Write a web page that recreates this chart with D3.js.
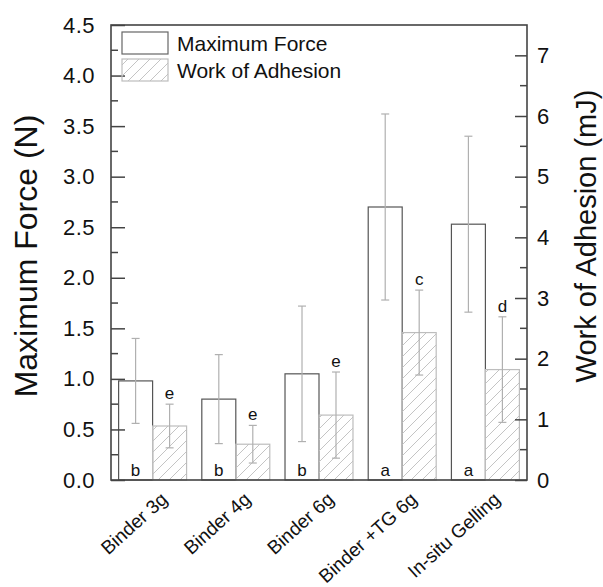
<!DOCTYPE html>
<html>
<head>
<meta charset="utf-8">
<script src="https://cdn.jsdelivr.net/npm/d3@7"></script>
<style>
  body { margin: 0; background: #fff; }
  text { font-family: Arial, "Liberation Sans", sans-serif; fill: #111; }
</style>
</head>
<body>
<script>
var svgWidth = 603;
var svgHeight = 587;

// data
var categories = ['Binder 3g', 'Binder 4g', 'Binder 6g', 'Binder +TG 6g', 'In-situ Gelling'];
var force = [0.98, 0.80, 1.05, 2.70, 2.53];
var forceErr = [0.42, 0.44, 0.67, 0.92, 0.87];
var work = [0.89, 0.59, 1.07, 2.43, 1.82];
var workErr = [0.36, 0.31, 0.71, 0.70, 0.87];
var forceLetters = ['b', 'b', 'b', 'a', 'a'];
var workLetters = ['e', 'e', 'e', 'c', 'd'];
var leftTicks = [0, 0.5, 1, 1.5, 2, 2.5, 3, 3.5, 4, 4.5];
var rightTicks = [0, 1, 2, 3, 4, 5, 6, 7];

var pLeft = 111, pRight = 527, pTop = 25, pBottom = 480;

var svg = d3.select('body').append('svg')
  .attr('width', svgWidth)
  .attr('height', svgHeight);

var defs = svg.append('defs');
var pat = defs.append('pattern')
  .attr('id', 'hatch')
  .attr('patternUnits', 'userSpaceOnUse')
  .attr('width', 11).attr('height', 11);
pat.append('path')
  .attr('d', 'M0,11 L11,0 M-2,2 L2,-2 M9,13 L13,9')
  .attr('stroke', '#c4c4c4')
  .attr('stroke-width', 1);

var x = d3.scaleBand().domain(categories).range([pLeft, pRight])
  .paddingInner(0.183).paddingOuter(0.0915);
var sub = d3.scaleBand().domain(['force', 'work']).range([0, x.bandwidth()]);
var yL = d3.scaleLinear().domain([0, 4.5]).range([pBottom, pTop]);
var yR = d3.scaleLinear().domain([0, 7.5]).range([pBottom, pTop]);

var rows = categories.map(function(c, i) {
  return {cat: c, f: force[i], fe: forceErr[i], w: work[i], we: workErr[i],
    fl: forceLetters[i], wl: workLetters[i]};
});

// bars
svg.selectAll('.fbar').data(rows).enter().append('rect')
  .attr('x', function(d) { return x(d.cat) + sub('force'); })
  .attr('y', function(d) { return yL(d.f); })
  .attr('width', sub.bandwidth())
  .attr('height', function(d) { return pBottom - yL(d.f); })
  .attr('fill', '#fff')
  .attr('stroke', '#555')
  .attr('stroke-width', 1.2);

svg.selectAll('.wbar').data(rows).enter().append('rect')
  .attr('x', function(d) { return x(d.cat) + sub('work'); })
  .attr('y', function(d) { return yR(d.w); })
  .attr('width', sub.bandwidth())
  .attr('height', function(d) { return pBottom - yR(d.w); })
  .attr('fill', 'url(#hatch)')
  .attr('stroke', '#bdbdbd')
  .attr('stroke-width', 1.2);

// error bars
function errBars(key, val, err, scale) {
  var g = svg.append('g').attr('stroke', '#b0b0b0').attr('stroke-width', 1.2);
  rows.forEach(function(d) {
    var cx = x(d.cat) + sub(key) + sub.bandwidth() / 2;
    var hi = scale(d[val] + d[err]), lo = scale(d[val] - d[err]);
    g.append('line').attr('x1', cx).attr('x2', cx).attr('y1', hi).attr('y2', lo);
    g.append('line').attr('x1', cx - 4).attr('x2', cx + 4).attr('y1', hi).attr('y2', hi);
    g.append('line').attr('x1', cx - 4).attr('x2', cx + 4).attr('y1', lo).attr('y2', lo);
  });
}
errBars('force', 'f', 'fe', yL);
errBars('work', 'w', 'we', yR);

// significance letters
svg.selectAll('.fl').data(rows).enter().append('text')
  .attr('x', function(d) { return x(d.cat) + sub('force') + sub.bandwidth() / 2; })
  .attr('y', pBottom - 4)
  .attr('text-anchor', 'middle')
  .style('font-size', '17px')
  .text(function(d) { return d.fl; });

svg.selectAll('.wl').data(rows).enter().append('text')
  .attr('x', function(d) { return x(d.cat) + sub('work') + sub.bandwidth() / 2; })
  .attr('y', function(d) { return yR(d.w + d.we) - 5; })
  .attr('text-anchor', 'middle')
  .style('font-size', '17px')
  .text(function(d) { return d.wl; });

// axes
var axL = d3.axisLeft(yL).tickValues(leftTicks).tickSize(-14).tickPadding(16)
  .tickFormat(d3.format('.1f'));
var gL = svg.append('g').attr('transform', 'translate(' + pLeft + ',0)').call(axL);
var axR = d3.axisRight(yR).tickValues(rightTicks).tickSize(-12).tickPadding(10)
  .tickFormat(d3.format('d'));
var gR = svg.append('g').attr('transform', 'translate(' + pRight + ',0)').call(axR);
[gL, gR].forEach(function(g) {
  g.select('.domain').remove();
  g.selectAll('line').attr('stroke', '#444').attr('stroke-width', 1.5);
  g.selectAll('text').style('font-size', '22px').style('letter-spacing', '0.5px')
    .style('font-family', 'Arial, "Liberation Sans", sans-serif').attr('fill', '#111');
});

// minor ticks
var minorL = d3.range(0.25, 4.5, 0.5);
svg.selectAll('.mL').data(minorL).enter().append('line')
  .attr('x1', pLeft).attr('x2', pLeft + 7)
  .attr('y1', function(d) { return yL(d); }).attr('y2', function(d) { return yL(d); })
  .attr('stroke', '#444').attr('stroke-width', 1.5);
var minorR = d3.range(0.5, 7.5, 1);
svg.selectAll('.mR').data(minorR).enter().append('line')
  .attr('x1', pRight).attr('x2', pRight - 7)
  .attr('y1', function(d) { return yR(d); }).attr('y2', function(d) { return yR(d); })
  .attr('stroke', '#444').attr('stroke-width', 1.5);

// frame
svg.append('rect')
  .attr('x', pLeft).attr('y', pTop)
  .attr('width', pRight - pLeft).attr('height', pBottom - pTop)
  .attr('fill', 'none').attr('stroke', '#444').attr('stroke-width', 1.6);

// category labels
svg.selectAll('.cat').data(categories).enter().append('text')
  .attr('transform', function(d) {
    return 'translate(' + (x(d) + x.bandwidth() / 2 + 16) + ',' + (pBottom + 21) + ') rotate(-42)';
  })
  .attr('text-anchor', 'end')
  .style('font-size', '19px')
  .text(function(d) { return d; });

// axis titles
svg.append('text')
  .attr('transform', 'translate(37,256) rotate(-90)')
  .attr('text-anchor', 'middle')
  .style('font-size', '32px')
  .text('Maximum Force (N)');
svg.append('text')
  .attr('transform', 'translate(596,236) rotate(-90)')
  .attr('text-anchor', 'middle')
  .style('font-size', '29px')
  .text('Work of Adhesion (mJ)');

// legend
var legend = svg.append('g');
legend.append('rect').attr('x', 122).attr('y', 32).attr('width', 46).attr('height', 22)
  .attr('fill', '#fff').attr('stroke', '#666').attr('stroke-width', 1.2);
legend.append('rect').attr('x', 122).attr('y', 59).attr('width', 46).attr('height', 22)
  .attr('fill', 'url(#hatch)').attr('stroke', '#bdbdbd').attr('stroke-width', 1.2);
legend.append('text').attr('x', 177).attr('y', 51).style('font-size', '21px').text('Maximum Force');
legend.append('text').attr('x', 177).attr('y', 78).style('font-size', '21px').text('Work of Adhesion');
</script>
</body>
</html>
